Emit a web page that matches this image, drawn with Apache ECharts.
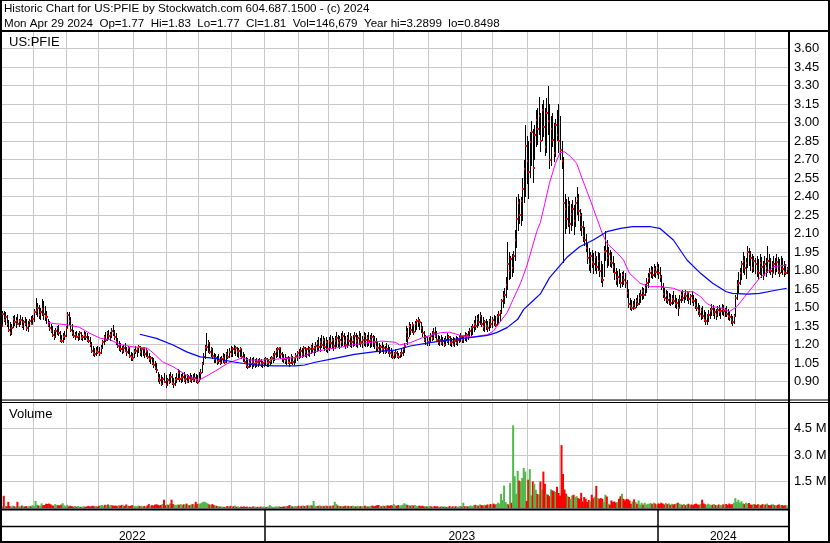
<!DOCTYPE html>
<html>
<head>
<meta charset="utf-8">
<script src="https://cdn.jsdelivr.net/npm/echarts@6/dist/echarts.min.js"></script>
<style>
html, body { margin: 0; padding: 0; background: #fff; }
#chart { width: 830px; height: 543px; }
</style>
</head>
<body>
<div id="chart"></div>
<script>
// one category per weekday, first and last day shown
var startDay = '2022-05-02';
var endDay = '2024-04-30';

// daily high / low / close
var high = [
1.44,1.47,1.47,1.46,1.44,1.40,1.38,1.37,1.43,1.44,
1.42,1.45,1.41,1.44,1.42,1.40,1.42,1.41,1.39,1.41,
1.43,1.44,1.49,1.58,1.54,1.52,1.50,1.57,1.55,1.51,
1.47,1.41,1.39,1.37,1.35,1.32,1.33,1.35,1.36,1.31,
1.28,1.29,1.31,1.35,1.46,1.46,1.42,1.37,1.32,1.30,
1.31,1.29,1.31,1.30,1.28,1.31,1.30,1.29,1.27,1.26,
1.22,1.19,1.17,1.18,1.19,1.18,1.20,1.24,1.28,1.30,
1.31,1.32,1.30,1.33,1.36,1.32,1.29,1.25,1.23,1.21,
1.19,1.20,1.21,1.18,1.19,1.17,1.14,1.13,1.16,1.19,
1.17,1.20,1.19,1.17,1.18,1.16,1.17,1.15,1.13,1.11,
1.10,1.09,1.07,1.05,0.98,0.96,0.95,0.94,0.97,0.95,
0.93,0.96,0.98,0.96,0.93,0.94,0.97,1.00,0.99,0.96,
0.97,0.98,0.95,0.96,0.95,0.97,0.95,0.96,0.97,0.96,
0.95,0.98,1.00,1.06,1.13,1.20,1.29,1.24,1.22,1.18,
1.17,1.13,1.12,1.11,1.12,1.10,1.11,1.13,1.12,1.14,
1.16,1.17,1.19,1.18,1.20,1.19,1.18,1.17,1.18,1.16,
1.14,1.12,1.10,1.09,1.08,1.10,1.09,1.10,1.08,1.09,
1.08,1.09,1.08,1.07,1.09,1.10,1.09,1.08,1.10,1.11,
1.13,1.15,1.17,1.18,1.18,1.17,1.14,1.12,1.12,1.10,
1.11,1.10,1.12,1.11,1.10,1.13,1.15,1.16,1.18,1.17,
1.19,1.18,1.17,1.19,1.18,1.20,1.21,1.19,1.22,1.24,
1.26,1.25,1.28,1.27,1.25,1.26,1.24,1.26,1.28,1.27,
1.25,1.27,1.30,1.28,1.27,1.29,1.31,1.29,1.27,1.28,
1.30,1.29,1.27,1.28,1.30,1.29,1.28,1.31,1.29,1.27,
1.30,1.29,1.28,1.30,1.28,1.29,1.28,1.27,1.25,1.23,
1.21,1.20,1.22,1.20,1.19,1.21,1.20,1.18,1.17,1.15,
1.14,1.16,1.15,1.13,1.14,1.16,1.18,1.21,1.35,1.33,
1.38,1.37,1.38,1.36,1.39,1.41,1.42,1.41,1.38,1.35,
1.31,1.28,1.27,1.26,1.29,1.31,1.33,1.34,1.31,1.28,
1.27,1.28,1.26,1.25,1.27,1.29,1.28,1.27,1.25,1.26,
1.25,1.27,1.26,1.28,1.29,1.27,1.28,1.30,1.29,1.31,
1.33,1.35,1.37,1.40,1.43,1.44,1.45,1.46,1.44,1.42,
1.40,1.41,1.39,1.41,1.43,1.42,1.44,1.43,1.45,1.47,
1.48,1.57,1.63,1.66,1.75,2.03,1.95,1.92,1.93,1.96,
2.13,2.40,2.42,2.38,2.40,2.55,2.70,2.98,2.89,2.85,
2.92,3.01,2.95,2.98,3.10,3.12,3.21,3.08,3.15,3.18,
3.12,3.20,3.30,3.15,3.05,3.08,3.00,3.03,3.10,3.15,
3.05,2.85,2.72,2.42,2.38,2.40,2.36,2.34,2.37,2.33,
2.40,2.48,2.42,2.30,2.27,2.20,2.15,2.10,2.02,1.98,
1.95,1.97,1.94,1.96,1.92,1.95,1.94,1.88,1.85,2.00,
2.12,2.05,1.99,1.97,1.95,1.92,1.86,1.82,1.80,1.81,
1.78,1.79,1.80,1.78,1.72,1.65,1.58,1.56,1.55,1.57,
1.58,1.60,1.62,1.64,1.67,1.66,1.69,1.74,1.78,1.82,
1.84,1.83,1.85,1.84,1.87,1.85,1.83,1.76,1.70,1.66,
1.64,1.63,1.62,1.61,1.60,1.63,1.60,1.58,1.57,1.60,
1.63,1.64,1.62,1.64,1.63,1.62,1.61,1.63,1.60,1.58,
1.57,1.54,1.52,1.50,1.51,1.48,1.46,1.45,1.48,1.50,
1.53,1.52,1.50,1.49,1.51,1.52,1.50,1.53,1.52,1.50,
1.51,1.49,1.47,1.45,1.43,1.45,1.60,1.72,1.79,1.82,
1.88,1.95,1.92,1.90,2.00,1.98,1.96,1.93,1.92,1.90,
1.92,1.89,1.93,1.91,1.88,1.92,1.90,2.00,1.93,1.90,
1.88,1.92,1.90,1.93,1.91,1.89,1.92,1.90,1.88,1.85,
1.83
];
var low = [
1.33,1.36,1.38,1.36,1.34,1.30,1.27,1.28,1.33,1.35,
1.33,1.36,1.34,1.36,1.33,1.32,1.35,1.31,1.30,1.34,
1.36,1.37,1.38,1.44,1.42,1.41,1.40,1.43,1.40,1.39,
1.37,1.34,1.31,1.29,1.26,1.24,1.25,1.28,1.27,1.22,
1.21,1.21,1.24,1.26,1.33,1.36,1.30,1.27,1.25,1.24,
1.25,1.23,1.24,1.24,1.23,1.24,1.24,1.22,1.21,1.18,
1.13,1.11,1.10,1.11,1.12,1.11,1.12,1.16,1.20,1.22,
1.23,1.24,1.23,1.25,1.27,1.24,1.20,1.17,1.15,1.14,
1.12,1.13,1.14,1.11,1.12,1.09,1.07,1.07,1.09,1.12,
1.10,1.13,1.11,1.10,1.11,1.09,1.10,1.08,1.06,1.04,
1.03,1.01,0.99,0.97,0.90,0.88,0.86,0.87,0.89,0.85,
0.86,0.88,0.89,0.87,0.85,0.86,0.89,0.91,0.90,0.89,
0.90,0.90,0.88,0.89,0.89,0.90,0.89,0.90,0.90,0.89,
0.88,0.90,0.91,0.97,1.03,1.08,1.15,1.13,1.12,1.10,
1.08,1.05,1.05,1.03,1.04,1.03,1.04,1.05,1.04,1.05,
1.08,1.09,1.10,1.10,1.12,1.11,1.10,1.09,1.10,1.08,
1.06,1.04,1.01,1.00,1.01,1.02,1.00,1.02,1.01,1.02,
1.02,1.03,1.02,1.01,1.02,1.03,1.02,1.02,1.03,1.04,
1.05,1.07,1.09,1.10,1.09,1.08,1.06,1.05,1.04,1.03,
1.04,1.02,1.04,1.03,1.03,1.05,1.07,1.08,1.09,1.09,
1.10,1.10,1.09,1.11,1.10,1.12,1.13,1.11,1.13,1.14,
1.15,1.14,1.17,1.16,1.15,1.14,1.13,1.15,1.17,1.16,
1.15,1.16,1.18,1.17,1.16,1.18,1.19,1.18,1.16,1.17,
1.19,1.18,1.17,1.18,1.19,1.18,1.17,1.20,1.18,1.17,
1.19,1.18,1.18,1.19,1.17,1.18,1.18,1.16,1.15,1.14,
1.12,1.13,1.14,1.12,1.12,1.13,1.12,1.10,1.09,1.08,
1.08,1.09,1.09,1.08,1.09,1.10,1.11,1.13,1.22,1.20,
1.26,1.28,1.29,1.28,1.30,1.32,1.34,1.32,1.29,1.26,
1.22,1.20,1.19,1.19,1.21,1.23,1.24,1.25,1.22,1.20,
1.19,1.20,1.19,1.18,1.19,1.21,1.20,1.19,1.18,1.19,
1.18,1.20,1.19,1.21,1.22,1.21,1.21,1.23,1.22,1.24,
1.25,1.27,1.28,1.30,1.32,1.33,1.35,1.36,1.34,1.31,
1.30,1.32,1.30,1.31,1.33,1.33,1.35,1.34,1.35,1.37,
1.38,1.45,1.50,1.53,1.58,1.64,1.72,1.73,1.75,1.78,
1.88,1.98,2.12,2.18,2.16,2.20,2.35,2.40,2.50,2.38,
2.55,2.65,2.51,2.70,2.80,2.82,2.90,2.76,2.85,2.88,
2.73,2.75,2.90,2.62,2.65,2.80,2.68,2.72,2.85,2.75,
2.70,2.62,1.86,2.10,2.14,2.15,2.10,2.12,2.16,2.09,
2.15,2.25,2.20,2.12,2.08,2.03,2.00,1.95,1.85,1.80,
1.78,1.82,1.77,1.80,1.77,1.80,1.75,1.70,1.67,1.75,
1.88,1.82,1.84,1.83,1.82,1.78,1.72,1.68,1.67,1.69,
1.66,1.67,1.68,1.66,1.58,1.50,1.48,1.47,1.48,1.49,
1.50,1.51,1.52,1.54,1.56,1.57,1.59,1.62,1.66,1.70,
1.74,1.73,1.75,1.74,1.76,1.73,1.71,1.64,1.58,1.55,
1.54,1.53,1.52,1.51,1.52,1.53,1.50,1.49,1.43,1.50,
1.54,1.55,1.54,1.56,1.55,1.53,1.52,1.54,1.51,1.49,
1.47,1.44,1.42,1.40,1.41,1.38,1.36,1.36,1.38,1.41,
1.43,1.43,1.41,1.40,1.42,1.43,1.41,1.44,1.43,1.42,
1.42,1.40,1.39,1.37,1.35,1.37,1.42,1.56,1.62,1.68,
1.72,1.78,1.76,1.73,1.82,1.84,1.80,1.78,1.79,1.77,
1.75,1.72,1.76,1.74,1.72,1.77,1.75,1.78,1.78,1.76,
1.74,1.78,1.76,1.79,1.77,1.75,1.78,1.76,1.75,1.76,
1.77
];
var close = [
1.35,1.45,1.40,1.42,1.37,1.32,1.29,1.33,1.41,1.38,
1.39,1.37,1.39,1.40,1.35,1.38,1.37,1.33,1.36,1.39,
1.37,1.41,1.46,1.47,1.50,1.44,1.46,1.49,1.45,1.43,
1.42,1.36,1.33,1.31,1.28,1.26,1.31,1.33,1.29,1.24,
1.23,1.26,1.27,1.33,1.44,1.39,1.32,1.29,1.27,1.28,
1.26,1.27,1.29,1.25,1.26,1.28,1.26,1.24,1.23,1.20,
1.15,1.13,1.12,1.15,1.14,1.13,1.17,1.22,1.26,1.24,
1.29,1.27,1.28,1.31,1.29,1.26,1.22,1.19,1.20,1.16,
1.15,1.17,1.15,1.14,1.17,1.11,1.10,1.09,1.14,1.15,
1.16,1.18,1.14,1.16,1.17,1.12,1.15,1.10,1.08,1.09,
1.05,1.03,1.01,0.99,0.93,0.91,0.88,0.92,0.90,0.87,
0.91,0.90,0.94,0.89,0.88,0.91,0.92,0.97,0.92,0.93,
0.94,0.91,0.92,0.90,0.93,0.91,0.92,0.91,0.93,0.91,
0.90,0.92,0.97,1.04,1.10,1.17,1.18,1.21,1.14,1.16,
1.11,1.08,1.09,1.06,1.07,1.05,1.08,1.09,1.06,1.12,
1.10,1.14,1.12,1.16,1.15,1.17,1.14,1.15,1.16,1.10,
1.09,1.06,1.03,1.02,1.05,1.04,1.06,1.04,1.05,1.06,
1.05,1.07,1.04,1.05,1.06,1.08,1.05,1.06,1.07,1.09,
1.10,1.12,1.15,1.16,1.17,1.12,1.09,1.08,1.07,1.09,
1.06,1.05,1.10,1.06,1.08,1.11,1.13,1.10,1.15,1.12,
1.17,1.14,1.16,1.13,1.16,1.18,1.16,1.17,1.19,1.21,
1.18,1.22,1.20,1.24,1.18,1.22,1.16,1.23,1.21,1.24,
1.19,1.23,1.25,1.21,1.24,1.22,1.27,1.23,1.20,1.25,
1.23,1.26,1.22,1.24,1.27,1.23,1.25,1.26,1.22,1.24,
1.27,1.24,1.25,1.23,1.24,1.26,1.25,1.22,1.18,1.17,
1.15,1.18,1.16,1.17,1.14,1.16,1.15,1.13,1.12,1.10,
1.12,1.13,1.11,1.10,1.12,1.13,1.16,1.19,1.30,1.25,
1.35,1.32,1.36,1.30,1.37,1.39,1.40,1.38,1.33,1.29,
1.24,1.26,1.22,1.23,1.27,1.25,1.29,1.27,1.24,1.22,
1.24,1.21,1.23,1.20,1.24,1.23,1.26,1.21,1.22,1.20,
1.23,1.21,1.24,1.25,1.26,1.24,1.27,1.26,1.28,1.27,
1.31,1.33,1.34,1.37,1.35,1.41,1.38,1.43,1.37,1.34,
1.38,1.35,1.33,1.39,1.37,1.40,1.38,1.36,1.42,1.44,
1.46,1.55,1.58,1.60,1.68,1.85,1.80,1.89,1.82,1.92,
2.05,2.22,2.35,2.25,2.36,2.46,2.62,2.81,2.69,2.60,
2.84,2.92,2.63,2.90,3.02,2.95,3.05,2.85,3.10,2.96,
2.80,3.08,3.01,2.70,2.95,2.86,2.75,2.98,2.90,2.85,
2.78,2.69,2.35,2.30,2.22,2.33,2.18,2.26,2.30,2.20,
2.35,2.38,2.28,2.25,2.15,2.08,2.05,1.98,1.90,1.85,
1.92,1.87,1.85,1.91,1.83,1.88,1.80,1.74,1.72,1.95,
1.96,1.90,1.93,1.88,1.86,1.83,1.78,1.72,1.75,1.73,
1.70,1.76,1.72,1.70,1.62,1.53,1.51,1.50,1.52,1.50,
1.55,1.53,1.58,1.60,1.63,1.60,1.66,1.70,1.74,1.78,
1.80,1.76,1.81,1.79,1.82,1.78,1.75,1.67,1.61,1.58,
1.60,1.56,1.58,1.54,1.57,1.55,1.53,1.54,1.50,1.56,
1.60,1.58,1.61,1.59,1.62,1.57,1.59,1.56,1.55,1.52,
1.50,1.47,1.45,1.48,1.43,1.40,1.39,1.42,1.44,1.47,
1.49,1.45,1.46,1.44,1.48,1.46,1.47,1.49,1.47,1.48,
1.45,1.43,1.42,1.40,1.38,1.43,1.58,1.68,1.70,1.78,
1.85,1.88,1.82,1.86,1.95,1.93,1.90,1.82,1.88,1.85,
1.80,1.78,1.86,1.83,1.76,1.85,1.82,1.88,1.86,1.80,
1.78,1.85,1.82,1.87,1.80,1.78,1.84,1.81,1.79,1.78,
1.81
];
// daily volume, thousands of shares
var volK = [
150,90,690,120,100,350,110,80,130,95,
70,350,120,90,140,100,80,110,75,130,
90,160,110,400,180,140,120,260,150,170,
240,230,250,210,150,130,220,180,160,140,
190,270,150,110,180,90,130,100,80,120,
70,110,90,60,80,100,70,90,120,80,
100,130,90,110,80,120,150,170,140,180,
160,200,130,170,150,120,140,110,160,130,
180,150,120,200,140,110,130,160,100,120,
90,140,110,130,90,120,80,150,220,130,
160,140,190,210,180,150,170,230,470,160,
200,180,250,470,220,190,160,200,180,230,
170,210,190,250,180,160,200,220,190,350,
240,210,260,300,350,350,300,250,200,180,
220,160,140,120,100,80,90,70,60,80,
110,90,120,80,100,130,70,90,60,80,
70,90,60,80,50,70,60,90,80,60,
70,50,80,60,90,70,60,80,170,100,
60,70,90,80,100,70,60,90,80,110,
100,170,120,90,80,110,100,130,90,120,
140,110,130,150,120,160,140,400,130,110,
120,150,100,130,110,140,120,100,130,110,
150,350,220,140,120,100,110,90,130,100,
120,90,110,130,100,80,120,90,110,100,
90,130,100,80,110,120,140,90,130,160,
170,120,100,140,110,130,150,120,160,140,
220,150,130,170,120,160,190,270,200,180,
150,130,160,140,170,120,110,140,100,130,
90,110,80,100,120,90,70,110,80,100,
60,80,100,70,90,60,80,110,70,90,
80,100,70,90,120,80,300,100,110,90,
120,140,100,160,180,150,130,200,170,140,
180,150,200,160,230,180,250,200,220,300,
250,800,450,1270,340,240,200,1420,300,4680,
1800,800,2100,1550,1500,1700,2270,2060,400,1600,
2200,710,1500,1370,1030,800,750,1500,1050,2060,
1370,800,750,670,1050,1000,940,900,1200,850,
700,3560,1930,1050,810,670,620,520,710,750,
620,670,560,520,860,370,620,520,340,450,
370,750,560,640,1250,560,520,560,520,340,
750,650,240,190,430,340,370,300,340,520,
670,800,520,430,520,490,430,240,370,490,
340,240,430,190,300,190,300,190,240,240,
280,220,300,250,200,260,230,300,250,200,
280,220,260,180,240,200,220,260,300,240,
200,180,220,160,200,240,180,200,160,220,
250,200,180,230,470,260,210,180,240,200,
160,190,220,170,150,200,180,160,210,190,
230,170,250,200,220,300,560,350,470,300,
380,260,220,300,250,280,200,180,230,200,
170,210,190,160,220,180,200,250,170,150,
190,210,160,140,180,200,150,170,130,160,
147
];
// moving averages: [day index, price]
var maShort = [[31,1.38],[35,1.37],[44,1.36],[52,1.34],[59,1.29],[66,1.25],[72,1.24],[79,1.20],[88,1.18],[97,1.17],
  [101,1.13],[107,1.06],[114,1.02],[123,0.95],[131,0.91],[137,0.95],[142,0.985],[150,1.047],[160,1.093],[164,1.074],
  [173,1.074],[181,1.08],[190,1.088],[199,1.10],[208,1.142],[217,1.164],[226,1.18],[234,1.20],[243,1.215],[252,1.228],
  [261,1.218],[264,1.196],[271,1.215],[279,1.255],[291,1.296],[297,1.30],[304,1.274],[312,1.26],[322,1.28],[326,1.31],
  [330,1.377],[335,1.458],[339,1.566],[344,1.70],[348,1.836],[355,2.13],[357,2.188],[360,2.345],[363,2.507],[367,2.669],
  [370,2.755],[373,2.763],[377,2.723],[381,2.669],[385,2.534],[390,2.372],[394,2.236],[398,2.10],[401,2.02],[408,1.94],
  [412,1.885],[416,1.777],[423,1.696],[430,1.669],[436,1.669],[445,1.656],[451,1.628],[458,1.628],[463,1.588],[467,1.534],
  [471,1.507],[478,1.493],[482,1.466],[487,1.507],[494,1.615],[502,1.737],[511,1.83],[520,1.845]];
var maLong = [[92,1.283],[103,1.25],[114,1.196],[123,1.14],[132,1.10],[142,1.088],[155,1.056],[168,1.034],[181,1.026],[195,1.026],
  [201,1.034],[208,1.056],[221,1.088],[234,1.12],[248,1.142],[261,1.155],[271,1.188],[284,1.215],[297,1.237],[310,1.255],
  [322,1.274],[328,1.296],[335,1.337],[342,1.404],[346,1.485],[350,1.53],[357,1.61],[363,1.74],[375,1.912],[383,1.993],
  [392,2.047],[401,2.115],[410,2.142],[418,2.155],[430,2.155],[436,2.142],[445,2.047],[454,1.885],[463,1.777],[471,1.696],
  [480,1.628],[484,1.615],[494,1.609],[502,1.615],[511,1.636],[520,1.656]];

var headLine1 = 'Historic Chart for US:PFIE by Stockwatch.com 604.687.1500 - (c) 2024';
var headLine2 = 'Mon Apr 29 2024  Op=1.77  Hi=1.83  Lo=1.77  Cl=1.81  Vol=146,679  Year hi=3.2899  lo=0.8498';

// weekday list
var days = [];
var d = new Date(startDay + 'T00:00:00Z');
var stop = new Date(endDay + 'T00:00:00Z');
while (d <= stop) {
    var wd = d.getUTCDay();
    if (wd !== 0 && wd !== 6) days.push(d.toISOString().slice(0, 10));
    d.setUTCDate(d.getUTCDate() + 1);
}
function monthStart(i) { return i > 0 && days[i].slice(0, 7) !== days[i - 1].slice(0, 7); }
function yearStart(i) { return i > 0 && days[i].slice(0, 4) !== days[i - 1].slice(0, 4); }
var cuts = [0];
days.forEach(function (s, i) { if (yearStart(i)) cuts.push(i); });
cuts.push(days.length);
var yearMid = {};
for (var k = 0; k < cuts.length - 1; k++) yearMid[Math.floor((cuts[k] + cuts[k + 1]) / 2)] = true;

var bars = high.map(function (h, i) { return [i, h, low[i], close[i]]; });
var volData = volK.map(function (v, i) {
    var c = '#a8a8a8';
    if (i > 0 && close[i] > close[i - 1]) c = '#4fb848';
    if (i > 0 && close[i] < close[i - 1]) c = '#ff0000';
    return { value: v, itemStyle: { color: c } };
});

var font = 'Liberation Sans, Arial, sans-serif';
var gridColor = '#c8c8c8';

function catAxis(idx, opts) {
    var a = {
        gridIndex: idx, type: 'category', data: days, boundaryGap: true,
        axisLine: { show: false }, axisTick: { show: false }, axisLabel: { show: false },
        splitLine: { show: true, interval: function (i) { return monthStart(i); }, lineStyle: { color: gridColor, width: 1 } }
    };
    return Object.assign(a, opts || {});
}

var chart = echarts.init(document.getElementById('chart'), null, { renderer: 'canvas' });
var option = {
    animation: false,
    backgroundColor: '#fff',
    grid: [
        { left: 0, top: 30, width: 789, height: 370, outerBoundsMode: 'none' },
        { left: 0, top: 402, width: 789, height: 106, outerBoundsMode: 'none' },
        { left: 0, top: 510, width: 789, height: 31, outerBoundsMode: 'none' }
    ],
    xAxis: [
        catAxis(0),
        catAxis(1),
        catAxis(2, {
            position: 'bottom',
            axisLabel: {
                show: true, inside: true, margin: -2, color: '#000', fontSize: 12, fontFamily: font,
                interval: function (i) { return !!yearMid[i]; },
                formatter: function (v) { return v.slice(0, 4); }
            },
            splitLine: { show: true, interval: function (i) { return yearStart(i); }, lineStyle: { color: '#000', width: 1.5 } }
        })
    ],
    yAxis: [
        {
            gridIndex: 0, type: 'value', position: 'right', min: 0.75, max: 3.75, interval: 0.15,
            axisLine: { show: false }, axisTick: { show: false },
            axisLabel: { showMinLabel: false, showMaxLabel: false, margin: 5, color: '#000', fontSize: 13, fontFamily: font,
                formatter: function (v) { return v.toFixed(2); } },
            splitLine: { lineStyle: { color: gridColor, width: 1 } }
        },
        {
            gridIndex: 1, type: 'value', position: 'right', min: 0, max: 6000, interval: 1500,
            axisLine: { show: false }, axisTick: { show: false },
            axisLabel: { showMinLabel: false, showMaxLabel: false, margin: 5, color: '#000', fontSize: 13, fontFamily: font,
                formatter: function (v) { return (v / 1000).toFixed(1) + ' M'; } },
            splitLine: { lineStyle: { color: gridColor, width: 1 } }
        },
        { gridIndex: 2, type: 'value', show: false }
    ],
    series: [
        {
            type: 'custom', xAxisIndex: 0, yAxisIndex: 0, data: bars, encode: { x: 0, y: [1, 2, 3] }, silent: true,
            renderItem: function (params, api) {
                var i = api.value(0);
                var hi = api.coord([i, api.value(1)]);
                var lo = api.coord([i, api.value(2)]);
                var cl = api.coord([i, api.value(3)]);
                // snap to whole pixels so the 1px bars stay crisp
                var x = Math.round(hi[0]) + 0.5;
                return {
                    type: 'group',
                    children: [
                        { type: 'line', shape: { x1: x, y1: Math.round(hi[1]), x2: x, y2: Math.round(lo[1]) }, style: { stroke: '#000', lineWidth: 1 } },
                        { type: 'rect', shape: { x: x - 0.5, y: Math.round(cl[1]) - 1, width: 2, height: 2 }, style: { fill: '#ff0000' } }
                    ]
                };
            }
        },
        {
            type: 'line', xAxisIndex: 0, yAxisIndex: 0, data: maShort, showSymbol: false, symbol: 'none', silent: true,
            lineStyle: { color: '#ff00ff', width: 1 }, z: 3
        },
        {
            type: 'line', xAxisIndex: 0, yAxisIndex: 0, data: maLong, showSymbol: false, symbol: 'none', silent: true,
            lineStyle: { color: '#0000ff', width: 1.2 }, z: 3
        },
        {
            type: 'bar', xAxisIndex: 1, yAxisIndex: 1, data: volData, barWidth: 2, silent: true
        }
    ],
    graphic: [
        { type: 'text', x: 4, y: 9, z: 100, style: { text: headLine1, fill: '#000', fontSize: 11.6, fontFamily: font, align: 'left', verticalAlign: 'middle' } },
        { type: 'text', x: 4, y: 24, z: 100, style: { text: headLine2, fill: '#000', fontSize: 11.6, fontFamily: font, align: 'left', verticalAlign: 'middle' } },
        { type: 'text', x: 9, y: 42, z: 100, style: { text: 'US:PFIE', fill: '#000', fontSize: 13, fontFamily: font, align: 'left', verticalAlign: 'middle' } },
        { type: 'text', x: 9, y: 414, z: 100, style: { text: 'Volume', fill: '#000', fontSize: 13, fontFamily: font, align: 'left', verticalAlign: 'middle' } },
        // frame
        { type: 'rect', z: 100, shape: { x: 0.5, y: 0.5, width: 829, height: 542 }, style: { fill: null, stroke: '#000', lineWidth: 1 } },
        { type: 'line', z: 100, shape: { x1: 1, y1: 0, x2: 1, y2: 543 }, style: { stroke: '#000', lineWidth: 2 } },
        { type: 'line', z: 100, shape: { x1: 829, y1: 0, x2: 829, y2: 543 }, style: { stroke: '#000', lineWidth: 2 } },
        { type: 'line', z: 100, shape: { x1: 0, y1: 31, x2: 830, y2: 31 }, style: { stroke: '#000', lineWidth: 2 } },
        { type: 'line', z: 100, shape: { x1: 0, y1: 400, x2: 830, y2: 400 }, style: { stroke: '#000', lineWidth: 1 } },
        { type: 'line', z: 100, shape: { x1: 0, y1: 402.5, x2: 830, y2: 402.5 }, style: { stroke: '#000', lineWidth: 1 } },
        { type: 'line', z: 100, shape: { x1: 0, y1: 509.5, x2: 789, y2: 509.5 }, style: { stroke: '#000', lineWidth: 2 } },
        { type: 'line', z: 100, shape: { x1: 0, y1: 526.5, x2: 789, y2: 526.5 }, style: { stroke: '#000', lineWidth: 1.5 } },
        { type: 'line', z: 100, shape: { x1: 0, y1: 542, x2: 830, y2: 542 }, style: { stroke: '#000', lineWidth: 2 } },
        { type: 'line', z: 100, shape: { x1: 789, y1: 31, x2: 789, y2: 543 }, style: { stroke: '#000', lineWidth: 2 } }
    ]
};
chart.setOption(option);
</script>
</body>
</html>
